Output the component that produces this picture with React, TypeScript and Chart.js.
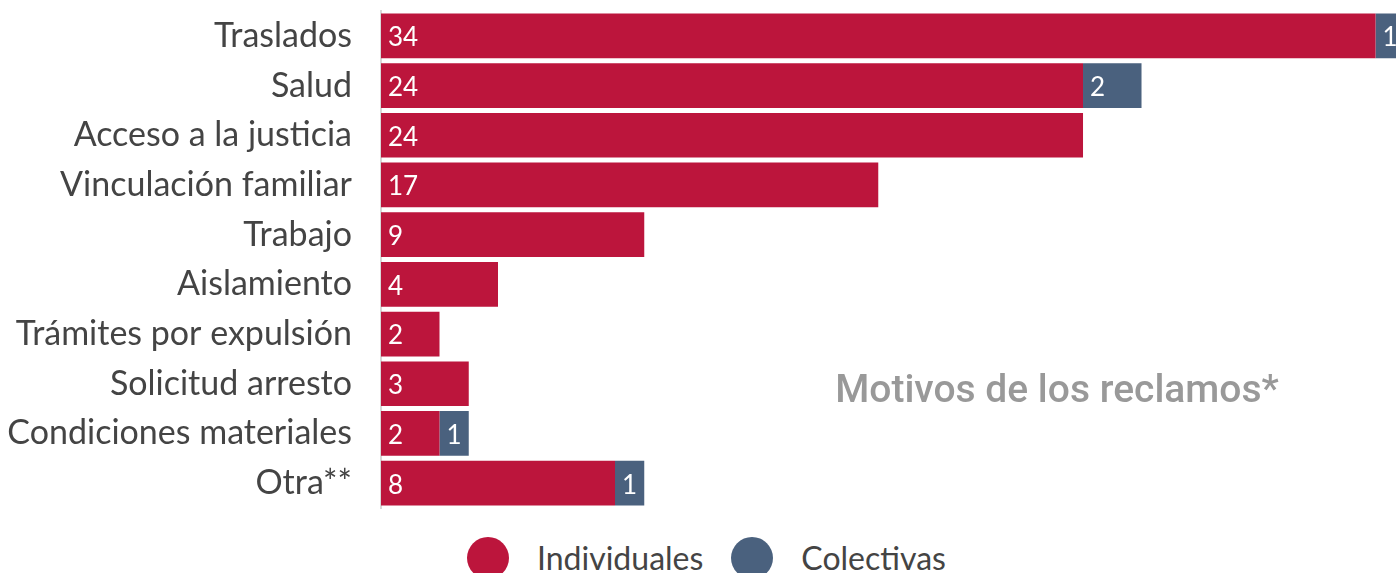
import React, { useEffect, useRef } from "react";
import { Chart, registerables } from "chart.js";

Chart.register(...registerables);

const categories = [
  "Traslados",
  "Salud",
  "Acceso a la justicia",
  "Vinculación familiar",
  "Trabajo",
  "Aislamiento",
  "Trámites por expulsión",
  "Solicitud arresto",
  "Condiciones materiales",
  "Otra**",
];
const individuales = [34, 24, 24, 17, 9, 4, 2, 3, 2, 8];
const colectivas = [1, 2, 0, 0, 0, 0, 0, 0, 1, 1];
const seriesNames = ["Individuales", "Colectivas"];
const chartTitle = "Motivos de los reclamos*";

const RED = "#BC153C";
const BLUE = "#4A617E";
const TEXT = "#444444";
const LABEL_FONT = "Lato";

const valueLabels = {
  id: "valueLabels",
  afterDatasetsDraw(chart: any) {
    const ctx = chart.ctx;
    ctx.save();
    ctx.font = `400 26px ${LABEL_FONT}`;
    ctx.fillStyle = "#ffffff";
    ctx.textAlign = "left";
    ctx.textBaseline = "middle";
    chart.data.datasets.forEach((ds: any, i: number) => {
      const meta = chart.getDatasetMeta(i);
      meta.data.forEach((el: any, j: number) => {
        const v = ds.data[j];
        if (!v) return;
        const p = el.getProps(["x", "y", "base"], true);
        ctx.fillText(String(v), Math.min(p.x, p.base) + 7, p.y + 2);
      });
    });
    ctx.restore();
  },
};

const innerTitle = {
  id: "innerTitle",
  afterDraw(chart: any) {
    const ctx = chart.ctx;
    ctx.save();
    ctx.font = "500 39px Roboto";
    ctx.fillStyle = "#999999";
    ctx.textAlign = "center";
    ctx.textBaseline = "alphabetic";
    ctx.fillText(chartTitle, 1057, 402);
    ctx.restore();
  },
};

export default function App() {
  const ref = useRef<HTMLCanvasElement>(null);

  useEffect(() => {
    if (!ref.current) return;
    const chart = new Chart(ref.current, {
      type: "bar",
      data: {
        labels: categories,
        datasets: [
          {
            label: seriesNames[0],
            data: individuales,
            backgroundColor: RED,
            borderWidth: 0,
            categoryPercentage: 0.9,
            barPercentage: 1,
          },
          {
            label: seriesNames[1],
            data: colectivas,
            backgroundColor: BLUE,
            borderWidth: 0,
            categoryPercentage: 0.9,
            barPercentage: 1,
          },
        ],
      },
      options: {
        indexAxis: "y",
        responsive: false,
        animation: false,
        layout: { padding: { top: 11, bottom: 10, left: 0, right: 0 } },
        plugins: {
          legend: { display: false },
          tooltip: { enabled: false },
          title: { display: false },
        },
        scales: {
          x: {
            stacked: true,
            display: false,
            min: 0,
            max: 34.7,
          },
          y: {
            stacked: true,
            grid: { display: false },
            border: { display: true, color: "#d9d9d9", width: 2 },
            ticks: {
              autoSkip: false,
              padding: 21,
              color: TEXT,
              font: { family: LABEL_FONT, size: 34, weight: "normal" },
            },
            afterFit: (scale: any) => {
              scale.width = 381;
              scale.paddingTop = 0;
              scale.paddingBottom = 0;
            },
          },
        },
      },
      plugins: [valueLabels, innerTitle],
    });
    return () => chart.destroy();
  }, []);

  const legendText: React.CSSProperties = {
    fontFamily: LABEL_FONT,
    fontSize: 32,
    color: TEXT,
    lineHeight: "42px",
    whiteSpace: "nowrap",
  };
  const dot = (c: string): React.CSSProperties => ({
    width: 42,
    height: 42,
    borderRadius: "50%",
    background: c,
    flex: "0 0 auto",
  });

  return (
    <div style={{ position: "fixed", left: 0, top: 0, width: 1396, height: 573, overflow: "hidden", background: "#fff" }}>
      <canvas ref={ref} width={1396} height={518} style={{ display: "block" }} />
      <div
        style={{
          position: "absolute",
          left: 467,
          top: 537,
          height: 42,
          display: "flex",
          alignItems: "center",
        }}
      >
        <div style={dot(RED)} />
        <span style={{ ...legendText, marginLeft: 28 }}>{seriesNames[0]}</span>
        <div style={{ ...dot(BLUE), marginLeft: 28 }} />
        <span style={{ ...legendText, marginLeft: 28 }}>{seriesNames[1]}</span>
      </div>
    </div>
  );
}
